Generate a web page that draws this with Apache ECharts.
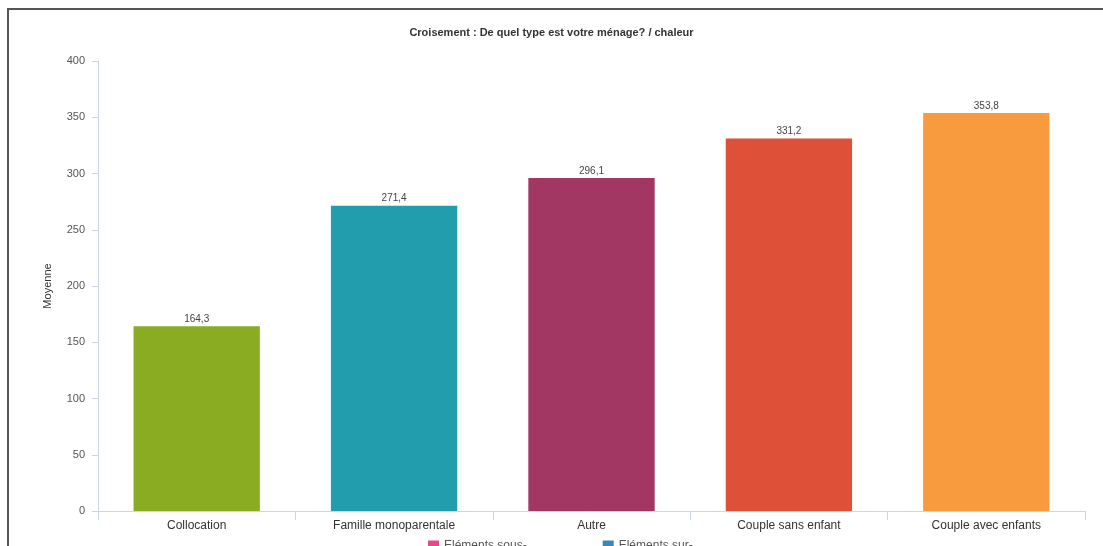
<!DOCTYPE html>
<html>
<head>
<meta charset="utf-8">
<script src="https://cdn.jsdelivr.net/npm/echarts@6/dist/echarts.min.js"></script>
<style>
html,body{margin:0;padding:0;background:#fff;}
#chart{width:1103px;height:546px;}
</style>
</head>
<body>
<div id="chart"></div>
<script>
const categories = ["Collocation", "Famille monoparentale", "Autre", "Couple sans enfant", "Couple avec enfants"];
const values = [164.3, 271.4, 296.1, 331.2, 353.8];
const barColors = ["#8aac23", "#229dae", "#a23764", "#de5037", "#f89a3e"];
const legendNames = ["Eléments sous-", "Eléments sur-"];
const legendColors = ["#e8488a", "#3a88b8"];
const yTicks = {min: 0, max: 400, interval: 50};

const chart = echarts.init(document.getElementById('chart'));
const fmt = v => v.toFixed(1).replace('.', ',');

const series = [{
  type: 'bar',
  name: 'Moyenne',
  barWidth: '64%',
  data: values.map((v, i) => ({value: v, itemStyle: {color: barColors[i]}})),
  label: {
    show: true, position: 'top', distance: 2,
    fontSize: 10, color: '#444', fontFamily: 'Liberation Sans, Arial, sans-serif',
    formatter: p => fmt(p.value)
  }
}];
legendNames.forEach((n, i) => {
  series.push({type: 'line', name: n, data: [], itemStyle: {color: legendColors[i]}, lineStyle: {color: legendColors[i]}});
});

chart.setOption({
  animation: false,
  textStyle: {fontFamily: 'Liberation Sans, Arial, sans-serif'},
  title: {
    text: 'Croisement : De quel type est votre ménage? / chaleur',
    left: 'center', top: 22,
    textStyle: {fontSize: 11, fontWeight: 'bold', color: '#333'}
  },
  legend: {
    data: legendNames,
    left: 423, top: 535,
    icon: 'rect', itemWidth: 11, itemHeight: 11, itemGap: 76,
    textStyle: {fontSize: 12, color: '#555'}
  },
  grid: {left: 98, right: 18, top: 61, bottom: 35},
  xAxis: {
    type: 'category', data: categories,
    axisLine: {lineStyle: {color: '#ccd6eb'}},
    axisTick: {show: true, length: 9, lineStyle: {color: '#ccd6eb'}},
    axisLabel: {color: '#333', fontSize: 12, margin: 9}
  },
  yAxis: {
    type: 'value', min: yTicks.min, max: yTicks.max, interval: yTicks.interval,
    name: 'Moyenne', nameLocation: 'middle', nameGap: 45, nameRotate: 90,
    nameTextStyle: {fontSize: 11, color: '#333'},
    axisLine: {show: true, lineStyle: {color: '#ccd6eb'}},
    axisTick: {show: true, length: 6, lineStyle: {color: '#ccd6eb'}},
    splitLine: {show: false},
    axisLabel: {color: '#555', fontSize: 11, margin: 13}
  },
  graphic: [{
    type: 'rect', silent: true,
    shape: {x: 8, y: 9, width: 1200, height: 700},
    style: {fill: 'none', stroke: '#555', lineWidth: 2}
  }],
  series: series
});
</script>
</body>
</html>
